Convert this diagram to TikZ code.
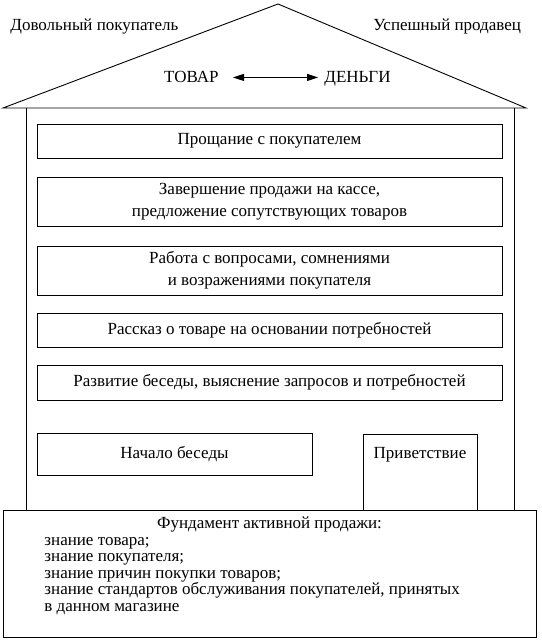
\documentclass[tikz,border=0pt]{standalone}
\usepackage{fontspec}
\setmainfont{Liberation Serif}
\usetikzlibrary{arrows.meta}

\begin{document}
\begin{tikzpicture}[x=1pt, y=-1pt, line width=0.9pt,
	stage/.style={draw, inner sep=0pt, minimum width=465pt, align=center, font=\fontsize{17}{22}\selectfont},
	txt/.style={inner sep=0pt, font=\fontsize{17}{16.5}\selectfont}]
	\useasboundingbox (0,0) rectangle (541,644);
	\draw (3,108) -- (278,4) -- (526,108) -- cycle;
	\draw (26,108) -- (26,510);
	\draw (514,108) -- (514,510);
	\node (buyer) [txt, anchor=base west] at (10,31) {Довольный покупатель};
	\node (seller) [txt, anchor=base west] at (373,31) {Успешный продавец};
	\node (goods) [txt, anchor=base east] at (219,83) {ТОВАР};
	\node (money) [txt, anchor=base west] at (324,83) {ДЕНЬГИ};
	\draw [{Triangle[length=11pt,width=7pt]}-{Triangle[length=11pt,width=7pt]}, shorten <=14pt, shorten >=6pt] (goods.east) -- (goods.east -| money.west);
	\node (farewell) [stage, minimum height=34pt] at (269.5,141) {Прощание с покупателем};
	\node (closing) [stage, minimum height=49pt] at (269.5,201.5) {Завершение продажи на кассе,\\предложение сопутствующих товаров};
	\node (doubts) [stage, minimum height=49pt] at (269.5,270.5) {Работа с вопросами, сомнениями\\и возражениями покупателя};
	\node (story) [stage, minimum height=34pt] at (269.5,330) {Рассказ о товаре на основании потребностей};
	\node (needs) [stage, minimum height=35pt] at (269.5,382.5) {Развитие беседы, выяснение запросов и потребностей};
	\node (start) [stage, minimum width=275pt, minimum height=42pt] at (174.5,454) {Начало беседы};
	\node (greeting) [stage, minimum width=114pt, text height=24pt, text depth=52pt, anchor=north] at (420,434) {Приветствие};
	\node (base) [draw, inner sep=0pt, minimum width=533pt, minimum height=127pt, anchor=north west] at (3,510) {};
	\node (basetitle) [txt, anchor=base] at (269.5,528) {Фундамент активной продажи:};
	\node (baselist) [txt, align=left, anchor=base west] at (44,611) {знание товара;\\знание покупателя;\\знание причин покупки товаров;\\знание стандартов обслуживания покупателей, принятых\\в данном магазине};
\end{tikzpicture}
\end{document}
